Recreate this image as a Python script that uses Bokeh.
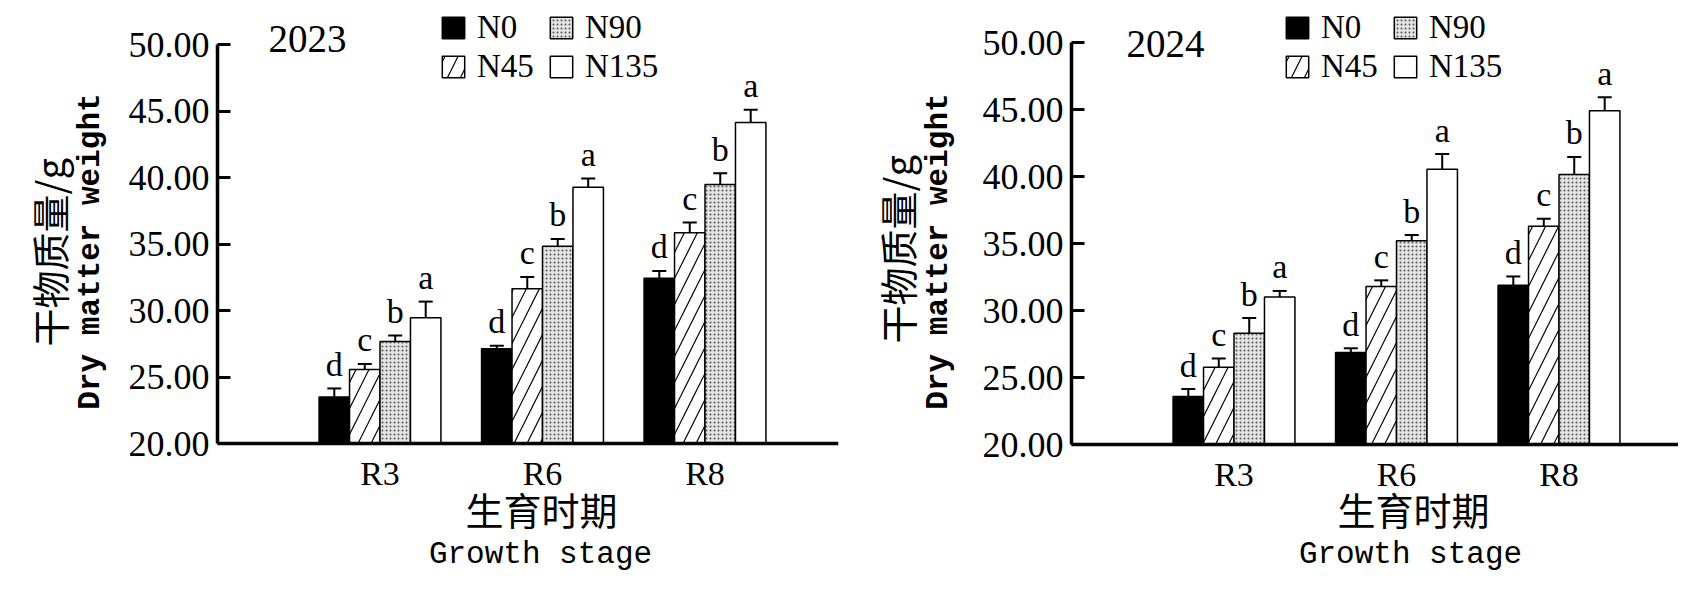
import math
from bokeh.plotting import figure
from bokeh.models import (Range1d, FixedTicker, Label, Legend, LegendItem, Whisker,
                          TeeHead, ColumnDataSource, NumeralTickFormatter)
from bokeh.layouts import row
from bokeh.embed import file_html
from bokeh.resources import INLINE
from bokeh.core.properties import value

# ---------------- data ----------------
stages = ["R3", "R6", "R8"]
treatments = ["N0", "N45", "N90", "N135"]
letters = ["d", "c", "b", "a"]
y_ticks = [20, 25, 30, 35, 40, 45, 50]

mean_2023_N0 = [23.49, 27.12, 32.43]
mean_2023_N45 = [25.56, 31.64, 35.84]
mean_2023_N90 = [27.67, 34.84, 39.47]
mean_2023_N135 = [29.45, 39.27, 44.13]
err_2023_N0 = [0.65, 0.23, 0.54]
err_2023_N45 = [0.42, 0.88, 0.77]
err_2023_N90 = [0.45, 0.54, 0.85]
err_2023_N135 = [1.22, 0.65, 0.96]

mean_2024_N0 = [23.58, 26.87, 31.89]
mean_2024_N45 = [25.77, 31.80, 36.28]
mean_2024_N90 = [28.31, 35.21, 40.14]
mean_2024_N135 = [31.01, 40.54, 44.90]
err_2024_N0 = [0.56, 0.31, 0.65]
err_2024_N45 = [0.65, 0.45, 0.56]
err_2024_N90 = [1.13, 0.42, 1.32]
err_2024_N135 = [0.45, 1.13, 1.01]

# ---------------- styles ----------------
SERIF = value("Liberation Serif")
MONO = "Liberation Mono"
CJK = "Noto Sans CJK SC"
BAR_W = 0.1875
PX_PER_STAGE = 162.5

styles = {
    "N0": dict(fill_color="black"),
    "N45": dict(fill_color="white", hatch_pattern="/", hatch_scale=26, hatch_weight=1.2, hatch_color="black"),
    "N90": dict(fill_color="#e4e4e4", hatch_pattern=".", hatch_scale=4, hatch_weight=1.2, hatch_color="#555555"),
    "N135": dict(fill_color="white"),
}


def make_panel(year, means, errs, frame_w, frame_h, axis_left, axis_len, px_per_unit,
               axis_bottom, mb_right, legend_xy, title_xy, ylab, xlab):
    # frame spans almost the whole canvas; axes are pinned at x=0 and y=20
    x0 = -axis_left / PX_PER_STAGE
    x1 = x0 + frame_w / PX_PER_STAGE
    y_lo = 20 - axis_bottom / px_per_unit
    y_hi = y_lo + frame_h / px_per_unit
    p = figure(frame_width=frame_w, frame_height=frame_h, output_backend="svg",
               toolbar_location=None, x_range=Range1d(x0, x1),
               y_range=Range1d(y_lo, y_hi), min_border_left=10,
               min_border_right=mb_right, min_border_top=9, min_border_bottom=0)
    p.outline_line_color = None
    p.background_fill_color = "white"
    p.border_fill_color = "white"
    p.xgrid.visible = False
    p.ygrid.visible = False

    legend_items = []
    for j, t in enumerate(treatments):
        xs = [i + 1 + (j - 1.5) * BAR_W for i in range(len(stages))]
        tops = [m + e for m, e in zip(means[t], errs[t])]
        src = ColumnDataSource(dict(x=xs, top=means[t], upper=tops,
                                    lab=[letters[j]] * len(stages)))
        r = p.vbar(x="x", top="top", bottom=20, width=BAR_W, source=src,
                   line_color="black", line_width=1.5, **styles[t])
        legend_items.append(LegendItem(label=t, renderers=[r]))
        w = Whisker(base="x", lower="top", upper="upper", source=src,
                    line_width=2, line_color="black",
                    upper_head=TeeHead(size=14, line_width=2, line_color="black"),
                    lower_head=None)
        p.add_layout(w)
        p.text(x="x", y="upper", text="lab", source=src, text_align="center",
               text_baseline="alphabetic", y_offset=-24, text_font=SERIF,
               text_font_size="34px", text_color="black")

    # x axis, pinned at y = 20
    xa = p.xaxis[0]
    xa.fixed_location = 20
    xa.bounds = (0, axis_len / PX_PER_STAGE)
    xa.ticker = FixedTicker(ticks=[1, 2, 3])
    xa.major_label_overrides = {i + 1: s for i, s in enumerate(stages)}
    xa.major_tick_line_color = None
    xa.minor_tick_line_color = None
    xa.axis_line_width = 3.5
    xa.axis_line_color = "black"
    xa.major_label_text_font = "Liberation Serif"
    xa.major_label_text_font_size = "34px"
    xa.major_label_text_color = "black"
    xa.major_label_standoff = 5

    # y axis, pinned at x = 0
    ya = p.yaxis[0]
    ya.fixed_location = 0
    ya.ticker = FixedTicker(ticks=y_ticks)
    ya.formatter = NumeralTickFormatter(format="0.00")
    ya.bounds = (20, 50)
    ya.axis_line_width = 3.5
    ya.major_tick_line_width = 3
    ya.major_tick_in = 13
    ya.major_tick_out = 0
    ya.minor_tick_line_color = None
    ya.major_label_text_font = "Liberation Serif"
    ya.major_label_text_font_size = "36px"
    ya.major_label_text_color = "black"
    ya.major_label_standoff = 8

    legend = Legend(items=legend_items, location=legend_xy, ncols=2,
                    label_text_font="Liberation Serif", label_text_font_size="33px",
                    label_text_color="black", glyph_width=28, glyph_height=27,
                    label_standoff=10, label_width=68, spacing=2, padding=0, margin=0,
                    border_line_color=None, background_fill_alpha=0)
    p.add_layout(legend, "center")

    p.add_layout(Label(x=title_xy[0], y=title_xy[1], x_units="screen", y_units="screen",
                       text=year, text_font="Liberation Serif", text_font_size="39px",
                       text_baseline="middle", text_align="left", text_color="black"))

    # y axis title (two rotated lines)
    p.add_layout(Label(x=ylab[0], y=ylab[1], x_units="screen", y_units="screen",
                       text="干物质量/g", angle=math.pi / 2, text_font=CJK,
                       text_font_size="38px", text_align="center", text_baseline="middle",
                       text_color="black"))
    p.add_layout(Label(x=ylab[2], y=ylab[3], x_units="screen", y_units="screen",
                       text="Dry matter weight", angle=math.pi / 2, text_font=MONO,
                       text_font_size="31px", text_font_style="bold", text_align="center",
                       text_baseline="middle", text_color="black"))
    # x axis title (two lines)
    p.add_layout(Label(x=xlab[0], y=xlab[1], x_units="screen", y_units="screen",
                       text="生育时期", text_font=CJK, text_font_size="38px",
                       text_align="center", text_baseline="middle", text_color="black"))
    p.add_layout(Label(x=xlab[2], y=xlab[3], x_units="screen", y_units="screen",
                       text="Growth stage", text_font=MONO, text_font_size="31px",
                       text_align="center", text_baseline="middle", text_color="black"))
    return p


means23 = {"N0": mean_2023_N0, "N45": mean_2023_N45, "N90": mean_2023_N90, "N135": mean_2023_N135}
errs23 = {"N0": err_2023_N0, "N45": err_2023_N45, "N90": err_2023_N90, "N135": err_2023_N135}
means24 = {"N0": mean_2024_N0, "N45": mean_2024_N45, "N90": mean_2024_N90, "N135": mean_2024_N135}
errs24 = {"N0": err_2024_N0, "N45": err_2024_N45, "N90": err_2024_N90, "N135": err_2024_N135}

# left figure: frame 18..846 (page), y axis at 225, x axis at 444, frame bottom 580
p1 = make_panel("2023", means23, errs23, frame_w=828, frame_h=570, axis_left=207,
                axis_len=621, px_per_unit=13.3, axis_bottom=136, mb_right=20,
                legend_xy=(429, 494), title_xy=(258, 541),
                ylab=(38, 327, 80, 328), xlab=(531, 71, 530, 25))
# right figure: frame 876..1686 (page), y axis at 1079, x axis at 445
p2 = make_panel("2024", means24, errs24, frame_w=810, frame_h=570, axis_left=203,
                axis_len=607, px_per_unit=13.4, axis_bottom=135, mb_right=0,
                legend_xy=(415, 494), title_xy=(258, 536),
                ylab=(28, 330, 70, 328), xlab=(545, 71, 542, 25))

layout = row(p1, p2)
open("out.html", "w").write(file_html(layout, INLINE))
